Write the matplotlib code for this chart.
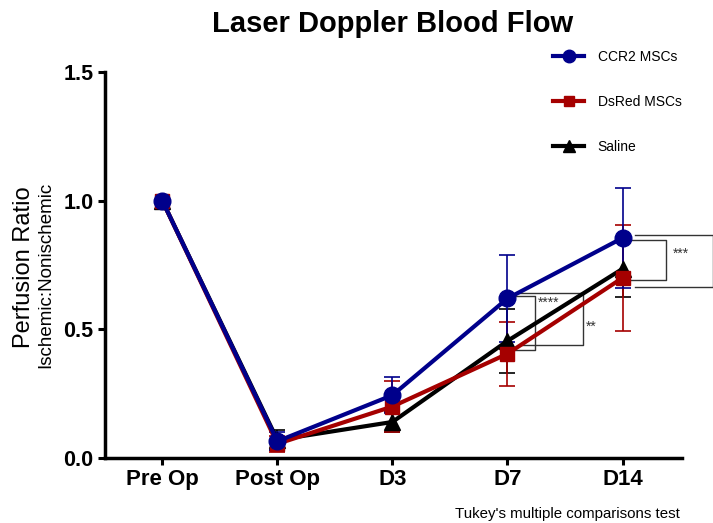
import matplotlib
matplotlib.use('Agg')
import matplotlib.pyplot as plt

plt.rcParams['font.family'] = ['Liberation Sans', 'DejaVu Sans']

# data
timepoints = ['Pre Op', 'Post Op', 'D3', 'D7', 'D14']
ccr2 = [1.0, 0.065, 0.244, 0.62, 0.855]
ccr2_err = [0, 0.035, 0.07, 0.17, 0.195]
dsred = [1.0, 0.055, 0.20, 0.405, 0.70]
dsred_err = [0, 0.03, 0.10, 0.125, 0.205]
saline = [1.0, 0.07, 0.14, 0.455, 0.735]
saline_err = [0, 0.04, 0.04, 0.125, 0.11]

# significance brackets: (x start, x end, y top, y bottom, label, label x, label y)
brackets = [
    (3.02, 3.24, 0.628, 0.419, '****', 3.26, 0.605),
    (3.10, 3.66, 0.640, 0.438, '**', 3.68, 0.51),
    (4.04, 4.38, 0.849, 0.690, '***', 4.44, 0.795),
    (4.11, 4.79, 0.868, 0.663, None, 0, 0),
]

navy = '#00008b'
dred = '#a50000'

fig = plt.figure(figsize=(7.13, 5.23), dpi=100)
ax = fig.add_axes([0.147, 0.1243, 0.81, 0.7380])

x = list(range(len(timepoints)))
series = [
    (saline, saline_err, 'black', '^', 11, 'Saline'),
    (dsred, dsred_err, dred, 's', 10, 'DsRed MSCs'),
    (ccr2, ccr2_err, navy, 'o', 12, 'CCR2 MSCs'),
]
handles = {}
for vals, err, col, mk, ms, lab in series:
    # Pre Op has no spread, skip its bar
    xe = [xi for xi, e in zip(x, err) if e > 0]
    ye = [v for v, e in zip(vals, err) if e > 0]
    ee = [e for e in err if e > 0]
    ax.errorbar(xe, ye, yerr=ee, fmt='none', ecolor=col, elinewidth=1.2,
                capsize=6, capthick=1.2, clip_on=False, zorder=2)
    ln, = ax.plot(x, vals, color=col, marker=mk, markersize=ms, linewidth=3,
                  clip_on=False, zorder=3, label=lab)
    handles[lab] = ln

for x0, x1, yt, yb, lab, lx, ly in brackets:
    ax.plot([x0, x1, x1, x0], [yt, yt, yb, yb], color='#333333', linewidth=1,
            clip_on=False, zorder=1)
    if lab:
        ax.text(lx, ly, lab, fontsize=10, color='#333333', ha='left', va='center')

ax.set_xlim(-0.5, 4.52)
ax.set_ylim(0, 1.5)
ax.set_xticks(x)
ax.set_xticklabels(timepoints, fontsize=16, fontweight='bold')
ax.set_yticks([0, 0.5, 1.0, 1.5])
ax.set_yticklabels(['0.0', '0.5', '1.0', '1.5'], fontsize=15.5, fontweight='bold')
ax.tick_params(direction='out', length=5, width=2.2, pad=3)
for s in ['top', 'right']:
    ax.spines[s].set_visible(False)
for s in ['left', 'bottom']:
    ax.spines[s].set_linewidth(2.5)

fig.text(0.033, 0.49, 'Perfusion Ratio', rotation=90, fontsize=17,
         ha='center', va='center')
fig.text(0.064, 0.475, 'Ischemic:Nonischemic', rotation=90, fontsize=13.5,
         ha='center', va='center')

fig.text(0.55, 0.955, 'Laser Doppler Blood Flow', fontsize=21, fontweight='bold',
         ha='center', va='center')
fig.text(0.954, 0.018, "Tukey's multiple comparisons test", fontsize=10.8,
         ha='right', va='center')

leg = ax.legend([handles['CCR2 MSCs'], handles['DsRed MSCs'], handles['Saline']],
                ['CCR2 MSCs', 'DsRed MSCs', 'Saline'],
                loc='upper left', bbox_to_anchor=(0.755, 1.09), frameon=False,
                fontsize=10, handlelength=2.2, labelspacing=2.25, handletextpad=1.0,
                markerscale=0.75)

fig.savefig('out.png', dpi=100)
